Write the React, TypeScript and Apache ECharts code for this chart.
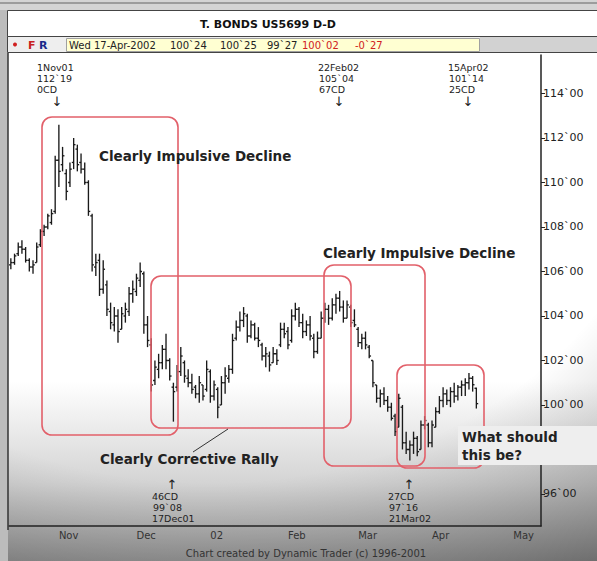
import React, { useEffect, useRef } from 'react';
import * as echarts from 'echarts';

// ---- calendar (trading days of the T-Bond future) ----
const startDate = '2001-10-15';
const endDate = '2002-05-10';
const holidays = ['2001-11-22', '2001-12-25', '2002-01-01', '2002-01-21', '2002-02-18', '2002-03-29'];
const monthTickLabels: Record<string, string> = {
  '2001-11-01': 'Nov',
  '2001-12-03': 'Dec',
  '2002-01-02': '02',
  '2002-02-01': 'Feb',
  '2002-03-01': 'Mar',
  '2002-04-01': 'Apr',
  '2002-05-01': 'May',
};

// ---- daily OHLC (15 Oct 2001 .. 17 Apr 2002) ----
const opens = [
  106.3, 106.4, 106.8, 107.1, 107.0, 106.5, 106.2, 106.4, 107.2, 107.8,
  108.0, 108.2, 108.7, 111.0, 110.8, 110.4, 110.0, 110.9, 111.5, 110.9,
  110.6, 110.0, 108.5, 106.2, 106.5, 105.2, 105.4, 104.2, 103.6, 104.0,
  103.4, 104.0, 104.2, 105.0, 105.1, 105.6, 105.9, 103.6, 102.7, 101.1,
  101.6, 101.9, 102.5, 102.0, 100.8, 100.8, 101.5, 101.9, 101.2, 101.0,
  100.8, 100.5, 100.9, 100.7, 101.5, 100.4, 100.7, 100.0, 101.0, 101.2,
  101.6, 103.0, 103.5, 103.8, 104.0, 103.1, 103.6, 103.0, 102.7, 102.2,
  102.2, 101.9, 102.3, 102.7, 103.4, 103.3, 102.9, 104.0, 104.3, 103.7,
  103.3, 103.6, 103.0, 102.4, 103.0, 103.9, 104.3, 103.9, 104.5, 104.8,
  104.4, 103.9, 104.4, 103.8, 103.4, 102.8, 103.0, 102.6, 102.0, 100.9,
  100.3, 100.5, 100.2, 99.9, 99.5, 99.0, 99.9, 98.3, 98.0, 98.2,
  98.5, 98.0, 99.1, 99.1, 98.3, 99.0, 99.7, 100.2, 100.5, 100.2,
  100.6, 100.4, 100.8, 100.9, 101.0, 101.2, 100.75,
];
const highs = [
  106.6, 106.8, 107.3, 107.4, 107.1, 106.6, 106.5, 107.3, 107.9, 108.1,
  108.6, 108.8, 111.2, 112.59, 111.6, 110.6, 110.9, 112.0, 111.7, 111.3,
  110.9, 110.1, 108.6, 106.8, 106.8, 106.5, 105.6, 104.6, 104.4, 104.3,
  104.4, 104.6, 105.3, 105.6, 105.9, 106.4, 106.0, 104.0, 103.0, 102.0,
  102.3, 102.7, 103.2, 102.1, 101.0, 101.8, 102.6, 102.0, 101.6, 101.4,
  100.9, 101.3, 100.9, 102.0, 101.6, 101.1, 100.8, 101.3, 101.7, 101.8,
  103.2, 103.8, 104.2, 104.4, 104.1, 103.8, 103.7, 103.5, 102.8, 102.6,
  102.4, 102.6, 102.5, 103.7, 103.7, 103.5, 104.3, 104.6, 104.4, 104.1,
  103.8, 104.0, 103.2, 103.3, 104.2, 104.6, 104.5, 104.8, 105.0, 105.125,
  104.7, 104.7, 104.5, 104.3, 103.5, 103.2, 103.3, 102.7, 102.0, 100.9,
  100.7, 100.8, 100.4, 100.1, 99.6, 100.5, 100.0, 98.8, 98.4, 98.8,
  98.6, 99.3, 99.5, 99.2, 99.3, 99.9, 100.4, 100.8, 100.7, 100.8,
  101.0, 100.9, 101.1, 101.2, 101.44, 101.3, 100.78,
];
const lows = [
  106.1, 106.3, 106.7, 106.8, 106.4, 106.0, 105.9, 106.4, 107.1, 107.6,
  107.9, 108.1, 108.6, 109.8, 110.5, 109.2, 109.8, 110.6, 110.5, 110.4,
  109.9, 108.5, 106.0, 105.8, 104.9, 105.0, 104.0, 103.4, 103.3, 102.8,
  103.4, 103.7, 104.0, 104.6, 104.9, 105.3, 103.2, 102.6, 100.6, 100.9,
  101.2, 101.6, 101.6, 101.1, 99.25, 100.6, 101.3, 101.0, 100.8, 100.5,
  100.3, 100.1, 100.2, 100.6, 100.1, 100.2, 99.4, 100.0, 100.5, 101.0,
  101.4, 102.9, 103.3, 103.5, 102.8, 103.0, 102.9, 102.6, 102.0, 101.7,
  101.5, 101.9, 101.8, 102.6, 103.0, 102.5, 102.8, 103.8, 103.5, 103.0,
  103.1, 102.9, 102.1, 102.3, 103.0, 103.7, 103.6, 103.8, 104.1, 104.2,
  103.7, 103.9, 103.5, 103.5, 102.6, 102.5, 102.5, 102.1, 100.8, 100.1,
  99.9, 100.0, 99.7, 99.3, 98.6, 99.0, 98.0, 97.8, 97.5, 97.8,
  97.7, 98.0, 98.9, 98.1, 98.1, 99.0, 99.6, 99.9, 100.0, 99.9,
  100.1, 100.2, 100.4, 100.4, 100.7, 100.6, 99.84,
];
const closes = [
  106.4, 106.7, 107.1, 107.0, 106.5, 106.2, 106.3, 107.1, 107.8, 108.0,
  108.5, 108.6, 111.0, 110.5, 111.2, 109.6, 110.6, 111.7, 110.8, 110.6,
  110.0, 108.7, 106.3, 106.4, 105.2, 106.1, 104.3, 103.7, 104.0, 103.3,
  104.1, 104.3, 105.0, 105.2, 105.7, 106.0, 103.6, 102.9, 100.9, 101.7,
  101.9, 102.5, 102.0, 101.3, 100.6, 101.5, 102.2, 101.3, 101.0, 100.7,
  100.5, 101.0, 100.4, 101.6, 100.4, 100.9, 99.9, 101.0, 101.3, 101.6,
  102.9, 103.5, 103.8, 104.1, 103.1, 103.6, 103.0, 102.9, 102.2, 102.3,
  101.8, 102.3, 102.0, 103.4, 103.2, 102.7, 104.0, 104.3, 103.7, 103.3,
  103.6, 103.1, 102.4, 103.0, 103.9, 104.3, 103.9, 104.5, 104.8, 104.4,
  103.9, 104.5, 103.7, 103.6, 102.8, 103.0, 102.7, 102.2, 101.0, 100.3,
  100.5, 100.2, 99.9, 99.4, 98.8, 100.3, 98.3, 98.0, 98.2, 98.5,
  97.9, 99.1, 99.3, 98.3, 99.1, 99.7, 100.2, 100.5, 100.2, 100.6,
  100.4, 100.8, 100.9, 101.0, 101.2, 100.91, 100.06,
];

// ---- axis ----
const yMin = 94.56;
const yMax = 115.73;
const yStep = 2;

function buildTradingDays(): string[] {
  const out: string[] = [];
  let t = Date.parse(startDate + 'T00:00:00Z');
  const end = Date.parse(endDate + 'T00:00:00Z');
  while (t <= end) {
    const d = new Date(t);
    const s = d.toISOString().slice(0, 10);
    const wd = d.getUTCDay();
    if (wd !== 0 && wd !== 6 && !holidays.includes(s)) out.push(s);
    t += 86400000;
  }
  return out;
}

const FONT = '"DejaVu Sans", Verdana, sans-serif';
const RED = '#e2606a';

function txt(text: string, x: number, y: number, opts: any = {}) {
  return {
    type: 'text',
    x,
    y,
    z: 20,
    style: {
      text,
      fill: opts.fill || '#222',
      font: `${opts.weight || 'normal'} ${opts.size || 10}px ${FONT}`,
      textAlign: opts.align || 'left',
      textVerticalAlign: 'middle',
    },
  };
}

function box(x: number, y: number, w: number, h: number) {
  return {
    type: 'rect',
    z: 15,
    shape: { x, y, width: w, height: h, r: 10 },
    style: { fill: 'none', stroke: RED, lineWidth: 1.6 },
  };
}

export default function App() {
  const ref = useRef<HTMLDivElement>(null);

  useEffect(() => {
    if (!ref.current) return;
    const chart = echarts.init(ref.current, null, { renderer: 'svg' });
    const days = buildTradingDays();
    const data = opens.map((o, i) => [i, o, highs[i], lows[i], closes[i]]);
    const isMonthStart = (idx: number) => monthTickLabels[days[idx]] !== undefined;

    const graphics: any[] = [
      // top strip and header
      { type: 'rect', z: 1, shape: { x: 0, y: 0, width: 597, height: 10 }, style: { fill: '#d4d4d4' } },
      { type: 'line', z: 1, shape: { x1: 0, y1: 3, x2: 597, y2: 3 }, style: { stroke: '#8a8a8a', lineWidth: 1.5 } },
      { type: 'rect', z: 1, shape: { x: 0, y: 10, width: 8, height: 551 }, style: { fill: '#bcbcbc' } },
      { type: 'rect', z: 1, shape: { x: 7.5, y: 10.5, width: 590, height: 26 }, style: { fill: '#ffffff', stroke: '#444', lineWidth: 1 } },
      { type: 'rect', z: 1, shape: { x: 7.5, y: 36.5, width: 590, height: 16 }, style: { fill: '#eeeeee', stroke: '#444', lineWidth: 1 } },
      { type: 'rect', z: 1, shape: { x: 480, y: 37, width: 117, height: 15 }, style: { fill: '#d2d2d2' } },
      { type: 'rect', z: 1, shape: { x: 66.5, y: 38.5, width: 413, height: 13 }, style: { fill: '#ffffd2', stroke: '#a0a0a0', lineWidth: 1 } },
      { type: 'circle', z: 2, shape: { cx: 15, cy: 44.5, r: 2 }, style: { fill: '#d02020' } },
      txt('F', 28, 45, { fill: '#c82020', weight: 'bold', size: 11 }),
      txt('R', 39, 45, { fill: '#1a2a8a', weight: 'bold', size: 11 }),
      txt('T. BONDS US5699 D-D', 268, 24, { weight: 'bold', size: 11, align: 'center', fill: '#111' }),
      txt('Wed 17-Apr-2002', 69, 45, { size: 10 }),
      txt('100`24', 170, 45, { size: 10 }),
      txt('100`25', 220, 45, { size: 10 }),
      txt('99`27', 267, 45, { size: 10 }),
      txt('100`02', 302, 45, { size: 10, fill: '#d02020' }),
      txt('-0`27', 355, 45, { size: 10, fill: '#d02020' }),
      // left frame line
      { type: 'line', z: 3, shape: { x1: 8, y1: 53, x2: 8, y2: 530 }, style: { stroke: '#333', lineWidth: 1.5 } },

      // pivot annotations (top)
      txt('1Nov01', 37, 67, { size: 9.5 }),
      txt('112`19', 37, 78, { size: 9.5 }),
      txt('0CD', 37, 89, { size: 9.5 }),
      txt('↓', 57, 101, { size: 13, align: 'center' }),
      txt('22Feb02', 318, 67, { size: 9.5 }),
      txt('105`04', 319, 78, { size: 9.5 }),
      txt('67CD', 319, 89, { size: 9.5 }),
      txt('↓', 339, 101, { size: 13, align: 'center' }),
      txt('15Apr02', 448, 67, { size: 9.5 }),
      txt('101`14', 449, 78, { size: 9.5 }),
      txt('25CD', 449, 89, { size: 9.5 }),
      txt('↓', 468, 101, { size: 13, align: 'center' }),
      // pivot annotations (bottom)
      txt('↑', 172, 484, { size: 13, align: 'center' }),
      txt('46CD', 152, 496, { size: 9.5 }),
      txt('99`08', 153, 507, { size: 9.5 }),
      txt('17Dec01', 152, 518, { size: 9.5 }),
      txt('↑', 409, 484, { size: 13, align: 'center' }),
      txt('27CD', 388, 496, { size: 9.5 }),
      txt('97`16', 389, 507, { size: 9.5 }),
      txt('21Mar02', 389, 518, { size: 9.5 }),

      // red boxes
      box(42, 117, 136, 318),
      box(151, 276, 200, 152),
      box(324, 265, 101, 201),
      box(397, 365, 87, 103),
      { type: 'line', z: 15, shape: { x1: 193, y1: 452, x2: 228, y2: 429 }, style: { stroke: '#333', lineWidth: 1 } },

      // commentary
      txt('Clearly Impulsive Decline', 99, 156, { weight: 'bold', size: 13.5, fill: '#222' }),
      txt('Clearly Impulsive Decline', 323, 253, { weight: 'bold', size: 13.5, fill: '#222' }),
      txt('Clearly Corrective Rally', 100, 459, { weight: 'bold', size: 13.5, fill: '#222' }),
      { type: 'rect', z: 18, shape: { x: 458, y: 426, width: 139, height: 39 }, style: { fill: '#eeeeee' } },
      txt('What should', 462, 437, { weight: 'bold', size: 13.5, fill: '#222' }),
      txt('this be?', 462, 455, { weight: 'bold', size: 13.5, fill: '#222' }),

      // footer
      txt('Chart created by Dynamic Trader (c) 1996-2001', 306, 553, { size: 10, align: 'center', fill: '#333' }),
    ];

    chart.setOption({
      animation: false,
      backgroundColor: 'transparent',
      grid: { left: 9, right: 56, top: 55, bottom: 35, containLabel: false },
      xAxis: {
        type: 'category',
        data: days,
        boundaryGap: true,
        axisLine: { lineStyle: { color: '#222', width: 1.5 } },
        axisTick: { interval: (idx: number) => isMonthStart(idx), length: 5, lineStyle: { color: '#222' } },
        axisLabel: {
          interval: (idx: number) => isMonthStart(idx),
          formatter: (v: string) => monthTickLabels[v] || '',
          align: 'left',
          margin: 4,
          fontSize: 10,
          fontFamily: FONT,
          color: '#333',
        },
        splitLine: { show: false },
      },
      yAxis: {
        type: 'value',
        position: 'right',
        min: yMin,
        max: yMax,
        minInterval: yStep,
        maxInterval: yStep,
        scale: true,
        axisLine: { show: true, lineStyle: { color: '#222', width: 1.5 } },
        axisTick: { show: true, length: 4, lineStyle: { color: '#222' } },
        axisLabel: {
          showMinLabel: false,
          showMaxLabel: false,
          margin: 2,
          fontSize: 11,
          fontFamily: FONT,
          color: '#222',
          formatter: (v: number) => (Math.abs(v / yStep - Math.round(v / yStep)) < 1e-6 ? `${v}\`00` : ''),
        },
        splitLine: { show: false },
      },
      series: [
        {
          type: 'custom',
          data,
          encode: { x: 0, y: [1, 2, 3, 4] },
          z: 5,
          renderItem: (params: any, api: any) => {
            const i = api.value(0);
            const o = api.coord([i, api.value(1)]);
            const h = api.coord([i, api.value(2)]);
            const l = api.coord([i, api.value(3)]);
            const c = api.coord([i, api.value(4)]);
            const w = api.size([1, 0])[0] * 0.5;
            const st = { stroke: '#1a1a1a', lineWidth: 1.35 };
            return {
              type: 'group',
              children: [
                { type: 'line', shape: { x1: h[0], y1: h[1], x2: l[0], y2: l[1] }, style: st },
                { type: 'line', shape: { x1: o[0] - w, y1: o[1], x2: o[0], y2: o[1] }, style: st },
                { type: 'line', shape: { x1: c[0], y1: c[1], x2: c[0] + w, y2: c[1] }, style: st },
              ],
            };
          },
        },
      ],
      graphic: { elements: graphics },
    });
    return () => chart.dispose();
  }, []);

  return (
    <div
      style={{
        position: 'fixed',
        left: 0,
        top: 0,
        width: 597,
        height: 561,
        background:
          'radial-gradient(140% 120% at 35% 20%, rgba(0,0,0,0) 55%, rgba(0,0,0,0.5) 100%), linear-gradient(to bottom, #ffffff 0%, #ffffff 68%, #d4d4d4 86%, #9c9c9c 100%)',
      }}
    >
      <div ref={ref} style={{ width: 597, height: 561 }} />
    </div>
  );
}
